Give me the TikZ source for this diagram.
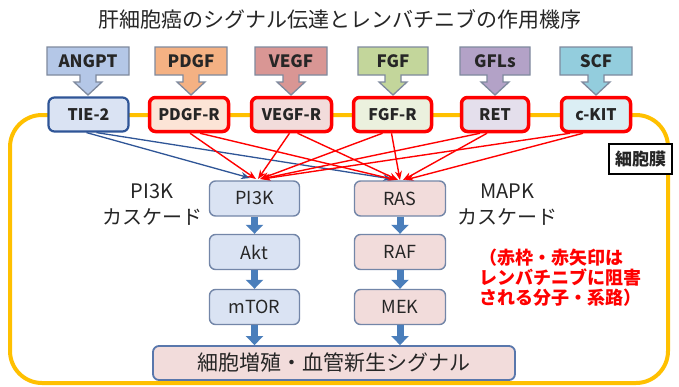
\documentclass[tikz,border=0pt]{standalone}
\usepackage{fontspec}
\setmainfont{Noto Sans CJK JP}
\usetikzlibrary{arrows.meta}
\definecolor{ligborder}{HTML}{7F8A9E}
\definecolor{fANGPT}{HTML}{B4C7E7}
\definecolor{fPDGF}{HTML}{F4B183}
\definecolor{fVEGF}{HTML}{D99694}
\definecolor{fFGF}{HTML}{C3D69B}
\definecolor{fGFL}{HTML}{B3A2C7}
\definecolor{fSCF}{HTML}{93CDDD}
\definecolor{rTIE}{HTML}{DAE3F3}
\definecolor{rPDGF}{HTML}{FCE4D6}
\definecolor{rVEGF}{HTML}{F2DCDB}
\definecolor{rFGF}{HTML}{EBF1DE}
\definecolor{rRET}{HTML}{E4DFEC}
\definecolor{rKIT}{HTML}{DBEEF4}
\definecolor{darkblue}{HTML}{2F5597}
\definecolor{casborder}{HTML}{7386A8}
\definecolor{casblue}{HTML}{DAE3F3}
\definecolor{caspink}{HTML}{F2DCDB}
\definecolor{blkblue}{HTML}{4A7EBB}
\definecolor{memyellow}{HTML}{FFC000}
\definecolor{redline}{HTML}{FF0000}
\newcommand\ligand[5]{%
  \filldraw[ligline, fill=#5] ({#2-#3/2},47) -- ({#2+#3/2},47) -- ({#2+#3/2},75)
    -- ({#2+8},75) -- ({#2+8},82) -- ({#2+14},82) -- (#2,95) -- ({#2-14},82)
    -- ({#2-8},82) -- ({#2-8},75) -- ({#2-#3/2},75) -- cycle;
  \node[ligtext] (#1) at (#2,61) {#4};
}
\begin{document}
\begin{tikzpicture}[x=1pt,y=-1pt,
  ligline/.style={draw=ligborder, line width=1.3pt, line join=miter},
  ligtext/.style={font=\fontsize{17}{19}\selectfont\bfseries, inner sep=0pt, text=black!85},
  recbox/.style={rounded corners=6pt, minimum height=34pt, inner sep=0pt,
    font=\fontsize{16}{18}\selectfont\bfseries, text=black!85},
  redrec/.style={recbox, draw=redline, line width=3.5pt},
  bluerec/.style={recbox, draw=darkblue, line width=2.2pt},
  casbox/.style={draw=casborder, line width=1.4pt, rounded corners=6pt,
    minimum width=90pt, minimum height=35pt, inner sep=0pt,
    font=\fontsize{18}{20}\selectfont, text=black!85},
  blk/.style={draw=blkblue, line width=7pt, -{Triangle[width=17pt,length=9pt]}},
  redarr/.style={draw=redline, line width=1.4pt, -{Stealth[length=9pt,width=7pt]}},
  bluearr/.style={draw=darkblue, line width=1.3pt, -{Stealth[length=9pt,width=7pt]}},
  lbl/.style={font=\fontsize{20}{26}\selectfont, align=center, inner sep=0pt, text=black!85}
]
\useasboundingbox (0,0) rectangle (679,386);
\fill[white] (0,0) rectangle (679,386);

% title
\node[font=\fontsize{21}{24}\selectfont, inner sep=0pt, text=black!85] (title) at (340,19)
  {肝細胞癌のシグナル伝達とレンバチニブの作用機序};

% cell membrane
\draw[memyellow, line width=4pt, rounded corners=32pt] (10,115) rectangle (668,383);

% ligands
\ligand{angpt}{88}{82}{ANGPT}{fANGPT}
\ligand{pdgf}{191}{72}{PDGF}{fPDGF}
\ligand{vegf}{291}{72}{VEGF}{fVEGF}
\ligand{fgf}{393}{70}{FGF}{fFGF}
\ligand{gfl}{495}{70}{GFLs}{fGFL}
\ligand{scf}{596}{72}{SCF}{fSCF}

% receptors
\node[bluerec, fill=rTIE, minimum width=80pt] (tie) at (88.5,114.5) {TIE-2};
\node[redrec, fill=rPDGF, minimum width=79pt] (pdgfr) at (189,114.5) {PDGF-R};
\node[redrec, fill=rVEGF, minimum width=80pt] (vegfr) at (291.5,114.5) {VEGF-R};
\node[redrec, fill=rFGF, minimum width=78pt] (fgfr) at (392.5,114.5) {FGF-R};
\node[redrec, fill=rRET, minimum width=67pt] (ret) at (495,114.5) {RET};
\node[redrec, fill=rKIT, minimum width=69pt] (kit) at (596,114.5) {c-KIT};

% membrane label
\node[draw=black, line width=1.8pt, fill=white, minimum width=63pt, minimum height=30pt,
  inner sep=0pt, font=\fontsize{17}{19}\selectfont\bfseries, text=black!85] (mem) at (640.5,159) {細胞膜};

% target coordinates
\coordinate (pB) at (250,178);
\coordinate (rB) at (392,179);
\coordinate (p1) at (256,179);
\coordinate (p2) at (258,179);
\coordinate (p3) at (260,179);
\coordinate (p4) at (261,179);
\coordinate (p5) at (262,179);
\coordinate (r1) at (396,180);
\coordinate (r2) at (398,180);
\coordinate (r3) at (400,180);
\coordinate (r4) at (403,180);
\coordinate (r5) at (405,180);

% connectors
\draw[bluearr] ([xshift=-2pt]tie.south) -- (pB);
\draw[bluearr] ([xshift=8pt]tie.south) -- (rB);
\draw[redarr] ([xshift=1pt]pdgfr.south) -- (p1);
\draw[redarr] ([xshift=11pt]pdgfr.south) -- (r1);
\draw[redarr] ([xshift=-2pt]vegfr.south) -- (p2);
\draw[redarr] ([xshift=6pt]vegfr.south) -- (r2);
\draw[redarr] ([xshift=-10pt]fgfr.south) -- (p3);
\draw[redarr] ([xshift=-1pt]fgfr.south) -- (r3);
\draw[redarr] ([xshift=-15pt]ret.south) -- (p4);
\draw[redarr] ([xshift=-8pt]ret.south) -- (r4);
\draw[redarr] ([xshift=-26pt]kit.south) -- (p5);
\draw[redarr] ([xshift=-13pt]kit.south) -- (r5);

% cascades
\node[casbox, fill=casblue] (pi3k) at (254.5,198.5) {PI3K};
\node[casbox, fill=casblue] (akt) at (254.5,252) {Akt};
\node[casbox, fill=casblue] (mtor) at (254.5,307) {mTOR};
\node[casbox, fill=caspink, minimum width=91pt] (ras) at (400,198.5) {RAS};
\node[casbox, fill=caspink, minimum width=91pt] (raf) at (400,252) {RAF};
\node[casbox, fill=caspink, minimum width=91pt] (mek) at (400,307) {MEK};
\node[draw=darkblue!80, line width=1.8pt, fill=caspink, rounded corners=6pt,
  minimum width=362pt, minimum height=34pt, inner sep=0pt,
  font=\fontsize{21}{23}\selectfont, text=black!85] (sig) at (334,363) {細胞増殖・血管新生シグナル};

\draw[blk] (pi3k.south) -- (akt.north);
\draw[blk] (akt.south) -- (mtor.north);
\draw[blk] (mtor.south) -- (mtor.south |- sig.north);
\draw[blk] (ras.south) -- (raf.north);
\draw[blk] (raf.south) -- (mek.north);
\draw[blk] (mek.south) -- (mek.south |- sig.north);

% labels
\node[lbl] (pi3klbl) at (152,205) {PI3K\\カスケード};
\node[lbl] (mapklbl) at (507,205) {MAPK\\カスケード};
\node[font=\fontsize{18}{20}\selectfont\bfseries, text=redline, align=left, inner sep=0pt,
  anchor=west] (note) at (479,278) {（赤枠・赤矢印は\\レンバチニブに阻害\\される分子・系路）};
\end{tikzpicture}
\end{document}
